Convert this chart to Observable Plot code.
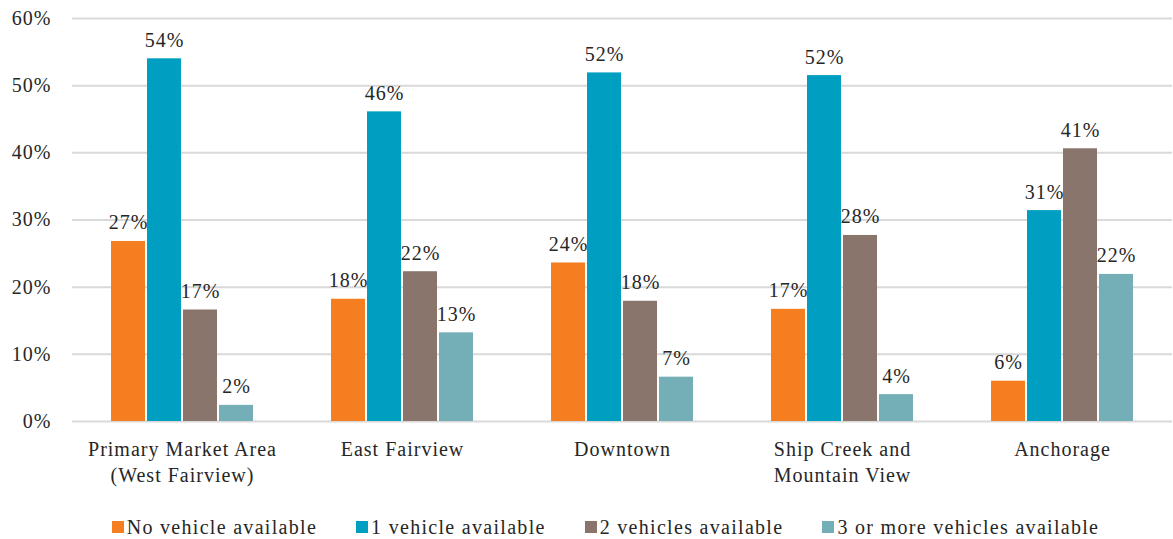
<!DOCTYPE html>
<html>
<head>
<meta charset="utf-8">
<script src="https://cdn.jsdelivr.net/npm/d3@7"></script>
<script src="https://cdn.jsdelivr.net/npm/@observablehq/plot@0.6"></script>
<style>
  html, body { margin: 0; padding: 0; background: #fff; }
  body { width: 1173px; height: 539px; overflow: hidden; color: #262626; font-family: 'Liberation Serif', Tinos, serif; }
  #legend { display: flex; justify-content: center; gap: 39px; padding-left: 38px; margin-top: 16px; line-height: 22px; font-size: 20px; letter-spacing: 1.3px; }
  #legend .item { display: flex; align-items: center; }
  #legend .sw { width: 12px; height: 12px; margin-right: 3px; display: inline-block; }
  #chart svg text { letter-spacing: 1px; }
</style>
</head>
<body>
<div id="chart"></div>
<div id="legend"></div>
<script>
const regions = ["Primary Market Area\n(West Fairview)", "East Fairview", "Downtown", "Ship Creek and\nMountain View", "Anchorage"];
const series = ["No vehicle available", "1 vehicle available", "2 vehicles available", "3 or more vehicles available"];
const colors = ["#F47E20", "#009FC2", "#89756B", "#74AFB7"];
const noVehicle = [26.8, 18.2, 23.6, 16.7, 6.0];
const oneVehicle = [54.0, 46.1, 51.9, 51.5, 31.4];
const twoVehicles = [16.6, 22.3, 17.9, 27.7, 40.6];
const threePlus = [2.4, 13.2, 6.6, 4.0, 21.9];
const yTicks = [0, 10, 20, 30, 40, 50, 60];

const seriesValues = [noVehicle, oneVehicle, twoVehicles, threePlus];
const data = [];
regions.forEach((r, i) => series.forEach((s, j) => data.push({region: r, series: s, value: seriesValues[j][i]})));

const FONT = "'Liberation Serif', Tinos, serif";
const plot = Plot.plot({
  width: 1173,
  height: 500,
  marginLeft: 71,
  marginRight: 0,
  marginTop: 18,
  marginBottom: 79,
  style: {fontFamily: FONT, fontSize: "20px", color: "#262626", background: "#fff"},
  fx: {domain: regions, paddingInner: 0, paddingOuter: 0, label: null, axis: null},
  x: {domain: series, paddingInner: 0.05, paddingOuter: 1.02, axis: null},
  y: {domain: [0, 60], ticks: yTicks, label: null, axis: null},
  color: {domain: series, range: colors},
  marks: [
    Plot.ruleY(yTicks, {stroke: "#d9d9d9", strokeWidth: 2}),
    Plot.barY(data, {fx: "region", x: "series", y: "value", fill: "series"}),
    Plot.text(data, {fx: "region", x: "series", y: "value", text: d => Math.round(d.value) + "%", lineAnchor: "bottom", dy: -12, fontSize: 20, fontFamily: FONT, fill: "#262626"}),
    Plot.axisY({ticks: yTicks, tickSize: 0, tickPadding: 21, tickFormat: d => d + "%", fontSize: 20, fontFamily: FONT, fill: "#262626", label: null}),
    Plot.axisFx({anchor: "bottom", tickSize: 0, tickPadding: 16, fontSize: 20, fontFamily: FONT, fill: "#262626", lineAnchor: "top", lineHeight: 1.3, label: null})
  ]
});
document.getElementById("chart").appendChild(plot);

const legend = document.getElementById("legend");
series.forEach((s, i) => {
  const item = document.createElement("div");
  item.className = "item";
  const sw = document.createElement("span");
  sw.className = "sw";
  sw.style.background = colors[i];
  item.appendChild(sw);
  item.appendChild(document.createTextNode(s));
  legend.appendChild(item);
});
</script>
</body>
</html>
